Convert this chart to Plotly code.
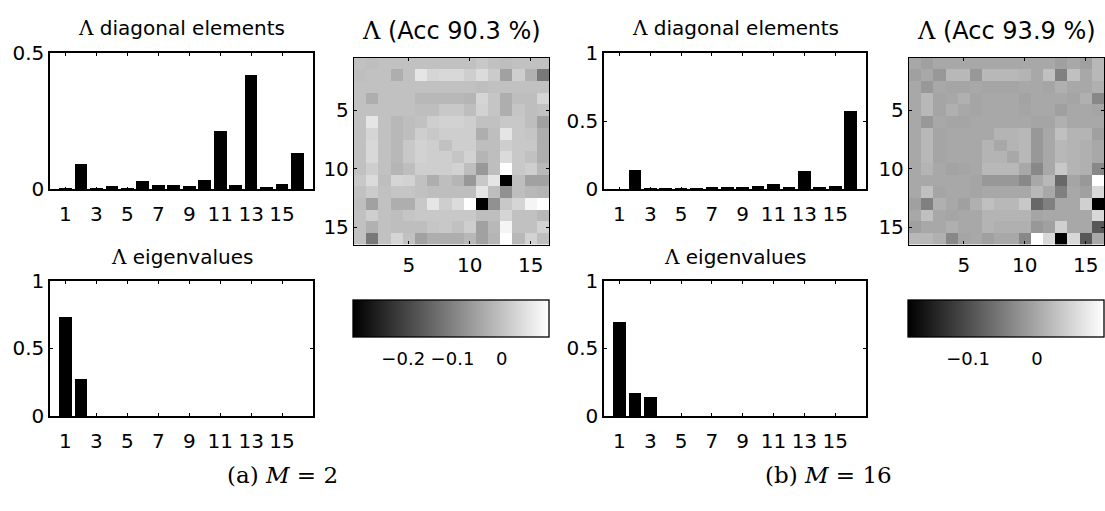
import plotly.graph_objects as go

W, H = 1105, 511

idx = list(range(1, 17))

diag_a = [0.005, 0.094, 0.002, 0.012, 0.005, 0.031, 0.016, 0.014, 0.012, 0.035,
          0.214, 0.014, 0.421, 0.007, 0.019, 0.133]
eig_a = [0.732, 0.279, 0, 0, 0, 0, 0, 0, 0, 0, 0, 0, 0, 0, 0, 0]
diag_b = [0.002, 0.140, 0.007, 0.009, 0.007, 0.005, 0.016, 0.016, 0.016, 0.023,
          0.042, 0.014, 0.133, 0.019, 0.021, 0.572]
eig_b = [0.694, 0.171, 0.143, 0, 0, 0, 0, 0, 0, 0, 0, 0, 0, 0, 0, 0]

lam_a = [
    [0, -0.005, 0, 0, 0, 0, 0, 0, 0, 0, 0.01, 0, -0.005, 0, 0, 0],
    [-0.005, 0, 0, -0.03, 0, 0.055, 0.03, 0.035, 0.035, 0.02, 0.04, 0.015, -0.05, 0.02, -0.025, -0.115],
    [0, 0, 0, 0, 0, 0, 0, 0, 0, 0, -0.005, 0, 0, 0, 0, 0],
    [0, -0.03, 0, 0, 0, -0.015, -0.015, -0.015, -0.015, -0.02, 0.03, 0.005, -0.03, -0.005, -0.005, 0.03],
    [0, 0, 0, 0, 0, -0.005, -0.005, 0.01, 0.01, -0.005, 0.025, 0.005, -0.03, 0.005, -0.005, 0],
    [0, 0.055, 0, -0.015, -0.005, 0, 0.02, 0.025, 0.025, 0.02, 0, 0, 0.01, 0.01, -0.005, -0.05],
    [0, 0.03, 0, -0.015, -0.005, 0.02, 0.01, 0.02, 0.02, 0.02, -0.03, -0.005, 0.055, 0.01, 0.005, -0.03],
    [0, 0.035, 0, -0.015, 0.01, 0.025, 0.02, 0, 0.02, 0.02, -0.005, -0.005, 0.02, 0.01, 0.01, -0.03],
    [0, 0.035, 0, -0.015, 0.01, 0.025, 0.02, 0.02, 0.005, 0.025, -0.02, -0.005, 0.04, 0.01, 0, -0.03],
    [0, 0.02, 0, -0.02, -0.005, 0.02, 0.02, 0.02, 0.025, -0.005, -0.065, -0.005, 0.095, 0.01, 0.02, -0.015],
    [0.01, 0.04, -0.005, 0.03, 0.025, 0, -0.03, -0.005, -0.02, -0.065, 0.01, 0.055, -0.30, -0.005, -0.05, -0.05],
    [0, 0.015, 0, 0.005, 0.005, 0, -0.005, -0.005, -0.005, -0.005, 0.055, -0.005, -0.075, -0.005, -0.015, -0.02],
    [-0.005, -0.05, 0, -0.03, -0.03, 0.01, 0.055, 0.02, 0.04, 0.095, -0.30, -0.075, 0.01, 0.03, 0.08, 0.095],
    [0, 0.02, 0, -0.005, 0.005, 0.01, 0.01, 0.01, 0.01, 0.01, -0.005, -0.005, 0.03, 0, 0, -0.015],
    [0, -0.025, 0, -0.005, -0.005, -0.005, 0.005, 0.01, 0, 0.02, -0.05, -0.015, 0.08, 0, 0, 0.025],
    [0, -0.115, 0, 0.03, 0, -0.05, -0.03, -0.03, -0.03, -0.015, -0.05, -0.02, 0.095, -0.015, 0.025, -0.005],
]

lam_b = [
    [0, -0.009, 0, 0, 0, 0, 0, 0, 0, 0, 0, 0, -0.009, 0, -0.009, 0.018],
    [-0.009, 0, -0.018, 0.018, 0.018, -0.018, 0.018, 0.018, 0.018, 0.014, 0, 0.027, -0.044, 0.027, 0, 0.018],
    [0, -0.018, 0, -0.003, -0.003, 0, -0.003, -0.003, -0.003, 0, 0, -0.003, 0.009, 0, 0, 0.009],
    [0, 0.018, -0.003, 0, 0.009, -0.003, 0, 0, 0, -0.006, 0, 0, 0, -0.003, 0.009, -0.036],
    [0, 0.018, -0.003, 0.009, 0, -0.003, 0, 0, 0, -0.003, 0, 0, -0.009, 0, 0, -0.003],
    [0, -0.018, 0, -0.003, -0.003, 0, 0, 0, 0, 0, -0.003, -0.003, 0.009, 0, 0, 0],
    [0, 0.018, -0.003, 0, 0, 0, 0, 0.014, 0.014, 0.018, -0.018, 0, 0.027, 0.014, 0.014, -0.009],
    [0, 0.018, -0.003, 0, 0, 0, 0.014, 0, 0.014, 0.018, -0.018, 0, 0.018, 0.014, 0.009, 0],
    [0, 0.018, -0.003, 0, 0, 0, 0.014, 0.014, 0, 0.018, -0.018, 0, 0.018, 0.014, 0.009, 0],
    [0, 0.014, 0, -0.006, -0.003, 0, 0.018, 0.018, 0.018, 0, -0.036, 0, 0.036, 0.014, 0.009, -0.036],
    [0, 0, 0, 0, 0, -0.003, -0.018, -0.018, -0.018, -0.036, 0, 0.018, -0.071, -0.003, -0.018, 0.097],
    [0, 0.027, -0.003, 0, 0, -0.003, 0, 0, 0, 0, 0.018, 0, -0.044, 0, -0.009, 0.054],
    [-0.009, -0.044, 0.009, 0, -0.009, 0.009, 0.027, 0.018, 0.018, 0.036, -0.071, -0.044, 0, 0, 0.045, -0.187],
    [0, 0.027, 0, -0.003, 0, 0, 0.014, 0.014, 0.014, 0.014, -0.003, 0, 0, 0, 0, 0.054],
    [-0.009, 0, 0, 0.009, 0, 0, 0.014, 0.009, 0.009, 0.009, -0.018, -0.009, 0.045, 0, 0, -0.089],
    [0.018, 0.018, 0.009, -0.036, -0.003, 0, -0.009, 0, 0, -0.036, 0.097, 0.054, -0.187, 0.054, -0.089, 0],
]

clim_a = [-0.302, 0.096]
clim_b = [-0.187, 0.097]
cb_ticks_a = [-0.2, -0.1, 0]
cb_text_a = ["\u22120.2", "\u22120.1", "0"]
cb_ticks_b = [-0.1, 0]
cb_text_b = ["\u22120.1", "0"]

bar_xticks = [1, 3, 5, 7, 9, 11, 13, 15]
hm_ticks = [5, 10, 15]

SANS = "DejaVu Sans"
SERIF = "DejaVu Serif"
FS = 20


def dx(a, b):
    return [a / W, b / W]


def dy(top, bottom):
    return [1 - bottom / H, 1 - top / H]


fig = go.Figure()

bar_sets = [
    (diag_a, "x", "y"),
    (eig_a, "x2", "y2"),
    (diag_b, "x4", "y4"),
    (eig_b, "x5", "y5"),
]
for vals, xa, ya in bar_sets:
    fig.add_trace(go.Bar(x=idx, y=vals, xaxis=xa, yaxis=ya, width=0.82,
                         marker=dict(color="black", line=dict(width=0)),
                         showlegend=False, hoverinfo="x+y"))

gray = [[0, "black"], [1, "white"]]


def cbar(xc, ticks, text):
    return dict(orientation="h", x=xc / W, xanchor="center",
                y=1 - 302 / H, yanchor="top",
                lenmode="pixels", len=196, thicknessmode="pixels", thickness=37,
                xpad=0, ypad=0, outlinewidth=1.3, outlinecolor="black",
                tickvals=ticks, ticktext=text, ticks="outside", ticklen=6,
                tickcolor="rgba(0,0,0,0)",
                tickfont=dict(family=SANS, size=18, color="black"))


fig.add_trace(go.Heatmap(z=lam_a, x=idx, y=idx, xaxis="x3", yaxis="y3",
                         colorscale=gray, zmin=clim_a[0], zmax=clim_a[1],
                         colorbar=cbar((353 + 549) / 2, cb_ticks_a, cb_text_a)))
fig.add_trace(go.Heatmap(z=lam_b, x=idx, y=idx, xaxis="x6", yaxis="y6",
                         colorscale=gray, zmin=clim_b[0], zmax=clim_b[1],
                         colorbar=cbar((908 + 1104) / 2, cb_ticks_b, cb_text_b)))

axis_common = dict(showline=True, linecolor="black", linewidth=1.5, mirror="ticks",
                   ticks="inside", ticklen=3, tickcolor="black", showgrid=False,
                   zeroline=False, tickfont=dict(family=SANS, size=FS, color="black"))


def bar_axes(n, xdom, ydom, yr, yticks):
    fig.update_layout(**{
        ("xaxis" if n == 1 else f"xaxis{n}"): dict(
            axis_common, domain=xdom, range=[0, 17], tickvals=bar_xticks,
            ticklabelstandoff=6,
            anchor=("y" if n == 1 else f"y{n}")),
        ("yaxis" if n == 1 else f"yaxis{n}"): dict(
            axis_common, domain=ydom, range=yr, tickvals=yticks,
            ticktext=[("0" if v == 0 else ("1" if v == 1 else str(v))) for v in yticks],
            anchor=("x" if n == 1 else f"x{n}")),
    })


bar_axes(1, dx(50, 313), dy(43, 186), [0, 0.5], [0, 0.5])
bar_axes(2, dx(50, 313), dy(282, 424), [0, 1], [0, 0.5, 1])
bar_axes(4, dx(604, 866), dy(43, 186), [0, 1], [0, 0.5, 1])
bar_axes(5, dx(604, 866), dy(282, 424), [0, 1], [0, 0.5, 1])


def hm_axes(n, xdom):
    fig.update_layout(**{
        f"xaxis{n}": dict(axis_common, domain=xdom, range=[0.5, 16.5], tickvals=hm_ticks,
                          linewidth=1.3, ticklabelstandoff=2, anchor=f"y{n}"),
        f"yaxis{n}": dict(axis_common, domain=dy(48, 244), range=[16.5, 0.5],
                          linewidth=1.3, tickvals=hm_ticks, anchor=f"x{n}"),
    })


hm_axes(3, dx(354, 549))
hm_axes(6, dx(909, 1104))

L = "<span style=\"font-family:'DejaVu Serif'\">\u039b</span>"
annots = [
    (181.5, 17, L + " diagonal elements", SANS, FS),
    (181.5, 257, L + " eigenvalues", SANS, FS),
    (451.5, 20, L + " (Acc 90.3 %)", SANS, 24),
    (735, 17, L + " diagonal elements", SANS, FS),
    (735, 257, L + " eigenvalues", SANS, FS),
    (1006.5, 20, L + " (Acc 93.9 %)", SANS, 24),
    (282, 486, "(a) <i>M</i> = 2", SERIF, 23),
    (828, 486, "(b) <i>M</i> = 16", SERIF, 23),
]
fig.update_layout(annotations=[
    dict(x=px / W, y=1 - py / H, xref="paper", yref="paper", text=t, showarrow=False,
         xanchor="center", yanchor="middle", font=dict(family=f, size=s, color="black"))
    for px, py, t, f, s in annots
])

fig.update_layout(width=W, height=H, margin=dict(l=0, r=0, t=0, b=0),
                  paper_bgcolor="white", plot_bgcolor="white", bargap=0,
                  showlegend=False)

fig.write_html("out.html")
